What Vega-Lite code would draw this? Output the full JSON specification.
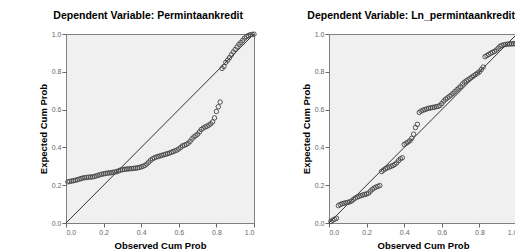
{
  "$schema": "https://vega.github.io/schema/vega-lite/v6.json",
  "padding": {"left": 37, "top": 10, "right": 0, "bottom": 0},
  "background": "white",
  "bounds": "flush",
  "spacing": 75,
  "datasets": {
    "left": [
      {"obs":0.01,"exp":0.218},{"obs":0.02,"exp":0.220},{"obs":0.03,"exp":0.222},{"obs":0.04,"exp":0.224},{"obs":0.05,"exp":0.226},
      {"obs":0.06,"exp":0.229},{"obs":0.07,"exp":0.232},{"obs":0.08,"exp":0.235},{"obs":0.09,"exp":0.238},{"obs":0.10,"exp":0.240},
      {"obs":0.11,"exp":0.241},{"obs":0.12,"exp":0.242},{"obs":0.13,"exp":0.243},{"obs":0.14,"exp":0.244},{"obs":0.15,"exp":0.246},
      {"obs":0.16,"exp":0.249},{"obs":0.17,"exp":0.252},{"obs":0.18,"exp":0.255},{"obs":0.19,"exp":0.258},{"obs":0.20,"exp":0.260},
      {"obs":0.21,"exp":0.262},{"obs":0.22,"exp":0.264},{"obs":0.23,"exp":0.265},{"obs":0.24,"exp":0.266},{"obs":0.25,"exp":0.268},
      {"obs":0.26,"exp":0.270},{"obs":0.27,"exp":0.272},{"obs":0.28,"exp":0.276},{"obs":0.29,"exp":0.280},{"obs":0.30,"exp":0.282},
      {"obs":0.31,"exp":0.284},{"obs":0.32,"exp":0.285},{"obs":0.33,"exp":0.286},{"obs":0.34,"exp":0.287},{"obs":0.35,"exp":0.288},
      {"obs":0.36,"exp":0.289},{"obs":0.37,"exp":0.290},{"obs":0.38,"exp":0.292},{"obs":0.39,"exp":0.294},{"obs":0.40,"exp":0.297},
      {"obs":0.41,"exp":0.300},{"obs":0.42,"exp":0.305},{"obs":0.43,"exp":0.312},{"obs":0.44,"exp":0.322},{"obs":0.45,"exp":0.332},
      {"obs":0.46,"exp":0.340},{"obs":0.47,"exp":0.345},{"obs":0.48,"exp":0.349},{"obs":0.49,"exp":0.352},{"obs":0.50,"exp":0.355},
      {"obs":0.51,"exp":0.358},{"obs":0.52,"exp":0.361},{"obs":0.53,"exp":0.364},{"obs":0.54,"exp":0.367},{"obs":0.55,"exp":0.370},
      {"obs":0.56,"exp":0.374},{"obs":0.57,"exp":0.378},{"obs":0.58,"exp":0.382},{"obs":0.59,"exp":0.386},{"obs":0.60,"exp":0.392},
      {"obs":0.61,"exp":0.400},{"obs":0.62,"exp":0.408},{"obs":0.63,"exp":0.412},{"obs":0.64,"exp":0.416},{"obs":0.65,"exp":0.422},
      {"obs":0.66,"exp":0.432},{"obs":0.67,"exp":0.445},{"obs":0.68,"exp":0.455},{"obs":0.69,"exp":0.462},{"obs":0.70,"exp":0.470},
      {"obs":0.71,"exp":0.482},{"obs":0.72,"exp":0.495},{"obs":0.73,"exp":0.502},{"obs":0.74,"exp":0.508},{"obs":0.75,"exp":0.512},
      {"obs":0.76,"exp":0.518},{"obs":0.77,"exp":0.525},{"obs":0.78,"exp":0.535},{"obs":0.79,"exp":0.556},{"obs":0.80,"exp":0.590},
      {"obs":0.81,"exp":0.615},{"obs":0.82,"exp":0.640},{"obs":0.83,"exp":0.818},{"obs":0.84,"exp":0.828},{"obs":0.85,"exp":0.850},
      {"obs":0.86,"exp":0.862},{"obs":0.87,"exp":0.875},{"obs":0.88,"exp":0.890},{"obs":0.89,"exp":0.905},{"obs":0.90,"exp":0.918},
      {"obs":0.91,"exp":0.932},{"obs":0.92,"exp":0.945},{"obs":0.93,"exp":0.955},{"obs":0.94,"exp":0.966},{"obs":0.95,"exp":0.978},
      {"obs":0.96,"exp":0.986},{"obs":0.97,"exp":0.992},{"obs":0.98,"exp":0.996},{"obs":0.99,"exp":0.998},{"obs":1.00,"exp":0.999}
    ],
    "right": [
      {"obs":0.01,"exp":0.008},{"obs":0.02,"exp":0.015},{"obs":0.03,"exp":0.020},{"obs":0.04,"exp":0.025},{"obs":0.05,"exp":0.092},
      {"obs":0.06,"exp":0.098},{"obs":0.07,"exp":0.102},{"obs":0.08,"exp":0.105},{"obs":0.09,"exp":0.107},{"obs":0.10,"exp":0.109},
      {"obs":0.11,"exp":0.112},{"obs":0.12,"exp":0.116},{"obs":0.13,"exp":0.125},{"obs":0.14,"exp":0.132},{"obs":0.15,"exp":0.137},
      {"obs":0.16,"exp":0.141},{"obs":0.17,"exp":0.145},{"obs":0.18,"exp":0.148},{"obs":0.19,"exp":0.151},{"obs":0.20,"exp":0.154},
      {"obs":0.21,"exp":0.158},{"obs":0.22,"exp":0.168},{"obs":0.23,"exp":0.178},{"obs":0.24,"exp":0.185},{"obs":0.25,"exp":0.190},
      {"obs":0.26,"exp":0.194},{"obs":0.27,"exp":0.198},{"obs":0.28,"exp":0.272},{"obs":0.29,"exp":0.280},{"obs":0.30,"exp":0.287},
      {"obs":0.31,"exp":0.292},{"obs":0.32,"exp":0.296},{"obs":0.33,"exp":0.300},{"obs":0.34,"exp":0.304},{"obs":0.35,"exp":0.310},
      {"obs":0.36,"exp":0.318},{"obs":0.37,"exp":0.330},{"obs":0.38,"exp":0.340},{"obs":0.39,"exp":0.345},{"obs":0.40,"exp":0.415},
      {"obs":0.41,"exp":0.422},{"obs":0.42,"exp":0.428},{"obs":0.43,"exp":0.435},{"obs":0.44,"exp":0.448},{"obs":0.45,"exp":0.470},
      {"obs":0.46,"exp":0.505},{"obs":0.47,"exp":0.522},{"obs":0.48,"exp":0.585},{"obs":0.49,"exp":0.592},{"obs":0.50,"exp":0.597},
      {"obs":0.51,"exp":0.600},{"obs":0.52,"exp":0.604},{"obs":0.53,"exp":0.607},{"obs":0.54,"exp":0.609},{"obs":0.55,"exp":0.611},
      {"obs":0.56,"exp":0.613},{"obs":0.57,"exp":0.615},{"obs":0.58,"exp":0.617},{"obs":0.59,"exp":0.622},{"obs":0.60,"exp":0.632},
      {"obs":0.61,"exp":0.645},{"obs":0.62,"exp":0.655},{"obs":0.63,"exp":0.662},{"obs":0.64,"exp":0.670},{"obs":0.65,"exp":0.677},
      {"obs":0.66,"exp":0.686},{"obs":0.67,"exp":0.695},{"obs":0.68,"exp":0.705},{"obs":0.69,"exp":0.714},{"obs":0.70,"exp":0.722},
      {"obs":0.71,"exp":0.735},{"obs":0.72,"exp":0.745},{"obs":0.73,"exp":0.752},{"obs":0.74,"exp":0.758},{"obs":0.75,"exp":0.765},
      {"obs":0.76,"exp":0.772},{"obs":0.77,"exp":0.779},{"obs":0.78,"exp":0.786},{"obs":0.79,"exp":0.793},{"obs":0.80,"exp":0.800},
      {"obs":0.81,"exp":0.812},{"obs":0.82,"exp":0.825},{"obs":0.83,"exp":0.880},{"obs":0.84,"exp":0.886},{"obs":0.85,"exp":0.892},
      {"obs":0.86,"exp":0.898},{"obs":0.87,"exp":0.903},{"obs":0.88,"exp":0.908},{"obs":0.89,"exp":0.915},{"obs":0.90,"exp":0.925},
      {"obs":0.91,"exp":0.935},{"obs":0.92,"exp":0.940},{"obs":0.93,"exp":0.943},{"obs":0.94,"exp":0.945},{"obs":0.95,"exp":0.946},
      {"obs":0.96,"exp":0.947},{"obs":0.97,"exp":0.948},{"obs":0.98,"exp":0.948},{"obs":0.99,"exp":0.949},{"obs":1.00,"exp":0.950}
    ],
    "diag": [{"obs":0,"exp":0},{"obs":1,"exp":1}]
  },
  "config": {
    "font": "Liberation Sans",
    "view": {"fill": "#f0f0f0", "stroke": "#808080", "strokeWidth": 1},
    "axis": {
      "grid": false,
      "domain": false,
      "labelFontSize": 7,
      "labelColor": "#666666",
      "tickColor": "#666666",
      "tickSize": 4,
      "labelPadding": 1,
      "titleFontSize": 9.5,
      "titleFontWeight": "bold",
      "titleColor": "#000000",
      "values": [0, 0.2, 0.4, 0.6, 0.8, 1.0],
      "format": ".1f"
    },
    "axisX": {"titlePadding": 5},
    "axisY": {"titlePadding": 3},
    "title": {"fontSize": 10.5, "fontWeight": "bold", "color": "#000000", "offset": 9, "anchor": "middle", "frame": "bounds"}
  },
  "hconcat": [
    {
      "title": "Dependent Variable: Permintaankredit",
      "width": 188,
      "height": 189,
      "layer": [
        {
          "data": {"name": "diag"},
          "mark": {"type": "line", "color": "#333333", "strokeWidth": 1},
          "encoding": {
            "x": {"field": "obs", "type": "quantitative", "scale": {"domain": [0, 1], "nice": false}, "title": "Observed Cum Prob"},
            "y": {"field": "exp", "type": "quantitative", "scale": {"domain": [0, 1], "nice": false}, "title": "Expected Cum Prob"}
          }
        },
        {
          "data": {"name": "left"},
          "mark": {"type": "point", "shape": "circle", "filled": false, "size": 20, "stroke": "#444444", "strokeWidth": 0.9, "opacity": 1},
          "encoding": {
            "x": {"field": "obs", "type": "quantitative"},
            "y": {"field": "exp", "type": "quantitative"}
          }
        }
      ]
    },
    {
      "title": "Dependent Variable: Ln_permintaankredit",
      "width": 188,
      "height": 189,
      "layer": [
        {
          "data": {"name": "diag"},
          "mark": {"type": "line", "color": "#333333", "strokeWidth": 1},
          "encoding": {
            "x": {"field": "obs", "type": "quantitative", "scale": {"domain": [0, 1], "nice": false}, "title": "Observed Cum Prob"},
            "y": {"field": "exp", "type": "quantitative", "scale": {"domain": [0, 1], "nice": false}, "title": "Expected Cum Prob"}
          }
        },
        {
          "data": {"name": "right"},
          "mark": {"type": "point", "shape": "circle", "filled": false, "size": 20, "stroke": "#444444", "strokeWidth": 0.9, "opacity": 1},
          "encoding": {
            "x": {"field": "obs", "type": "quantitative"},
            "y": {"field": "exp", "type": "quantitative"}
          }
        }
      ]
    }
  ]
}
